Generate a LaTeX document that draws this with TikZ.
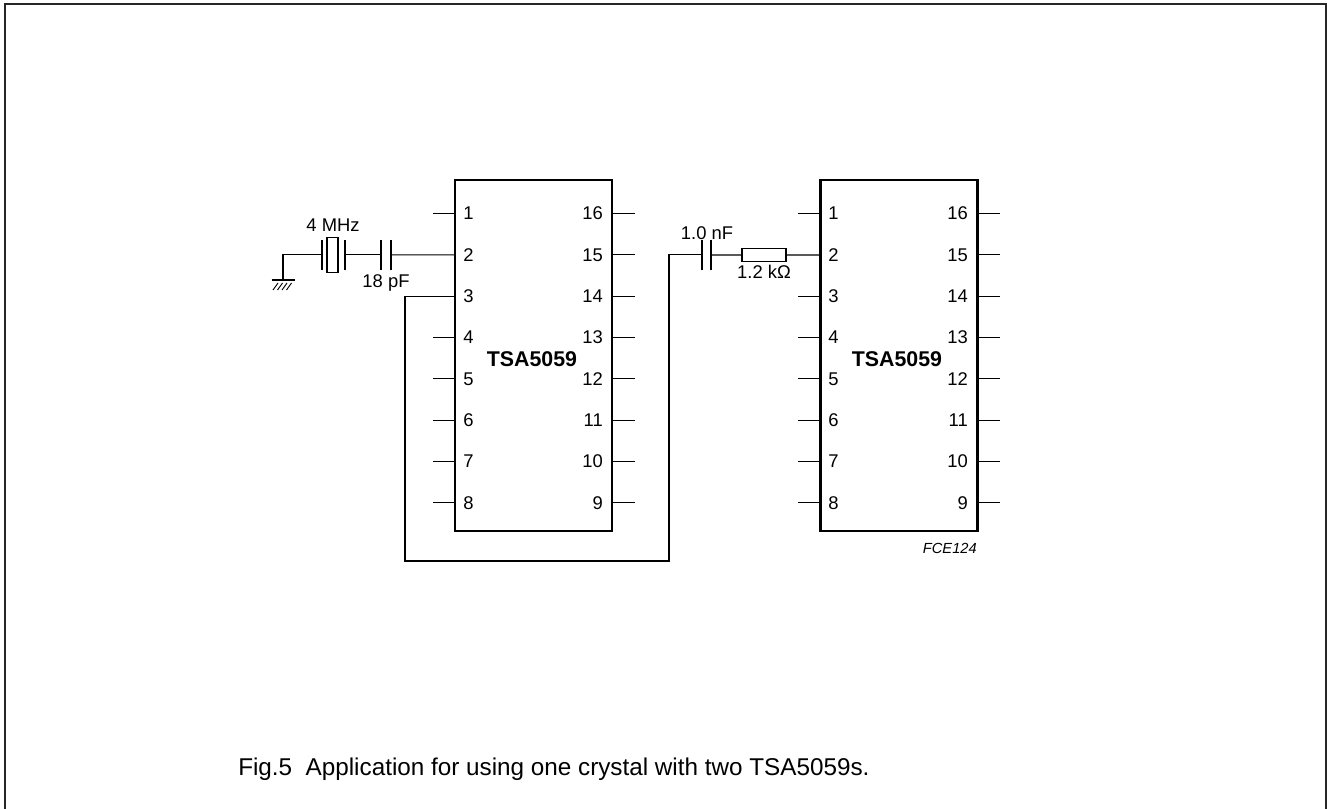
\documentclass[tikz,border=0pt]{standalone}
\usepackage{fontspec}
\setmainfont{Liberation Sans}
\begin{document}
\begin{tikzpicture}[x=0.75pt,y=-0.75pt,
  wire/.style={line width=0.9pt},
  plate/.style={line width=2.2pt},
  chipbox/.style={draw,line width=2.2pt,minimum width=117.75pt,minimum height=263.25pt,inner sep=0pt},
  lbl/.style={font=\fontsize{13.8}{15}\selectfont,inner sep=0pt},
  chipname/.style={font=\fontsize{16}{18}\selectfont\bfseries,inner sep=0pt},
  xtalbox/.style={draw,line width=0.9pt,minimum width=8.25pt,minimum height=26.25pt,inner sep=0pt},
  resbox/.style={draw,line width=0.9pt,minimum width=33pt,minimum height=9.75pt,inner sep=0pt},
  frame/.style={draw=black!85,line width=1.5pt}]
\useasboundingbox (0,0) rectangle (1327,809);
\draw[frame] (5,809) -- (5,4) -- (1325.5,4) -- (1325.5,809);

% chips
\node[chipbox] (c1) at (533.5,355.5) {};
\node[chipbox] (c2) at (899,355.5) {};
\node[chipname] (n1) at (532,359) {TSA5059};
\node[chipname] (n2) at (897,359) {TSA5059};

\foreach \c/\xl/\xr in {c1/455/612, c2/820/977}{
  \foreach \i in {1,...,8}{
    \pgfmathsetmacro{\yy}{213.6+41.3*(\i-1)}
    \pgfmathtruncatemacro{\j}{17-\i}
    \coordinate (\c l\i) at (\xl,\yy);
    \coordinate (\c le\i) at (\xl-22,\yy);
    \coordinate (\c r\i) at (\xr,\yy);
    \coordinate (\c re\i) at (\xr+23,\yy);
    \node[lbl,anchor=west] (\c ln\i) at (\xl+8,\yy) {\i};
    \node[lbl,anchor=east] (\c rn\i) at (\xr-9,\yy) {\j};
  }
}
\foreach \c in {c1,c2}{
  \foreach \i in {1,3,4,5,6,7,8}{
    \draw[wire] (\c le\i) -- (\c l\i);
  }
  \foreach \i in {1,...,8}{
    \draw[wire] (\c r\i) -- (\c re\i);
  }
}

% left circuit: ground, crystal, 18 pF
\coordinate (gnd) at (283,280);
\coordinate (xl) at (322,254.9);
\coordinate (xr) at (345,254.9);
\coordinate (ca) at (381,254.9);
\coordinate (cb) at (391,254.9);
\node[xtalbox] (xtal) at (332.5,255) {};
\draw[plate] ([yshift=11.25pt]xl) -- ([yshift=-11.25pt]xl);
\draw[plate] ([yshift=11.25pt]xr) -- ([yshift=-11.25pt]xr);
\draw[plate] ([yshift=11.25pt]ca) -- ([yshift=-11.25pt]ca);
\draw[plate] ([yshift=11.25pt]cb) -- ([yshift=-11.25pt]cb);
\draw[wire] (gnd) |- (xl);
\draw[wire] (xr) -- (ca);
\draw[wire] (cb) -- (c1l2);
\draw[plate] (271.5,280) -- (294.5,280);
\foreach \h in {273,277.5,282,286.5}{
  \draw[line width=0.7pt] (\h,290) -- (\h+5,283);
}
\node[lbl] (f4) at (333,225) {4 MHz};
\node[lbl,anchor=north] (c18) at (386,274) {18 pF};

% link from pin 3 of first chip
\coordinate (k1) at (405,561);
\coordinate (k2) at (669,561);
\coordinate (da) at (702,254.9);
\coordinate (db) at (711,254.9);
\draw[wire] (c1l3) -| (k1) -- (k2) |- (da);
\draw[plate] ([yshift=11.25pt]da) -- ([yshift=-11.25pt]da);
\draw[plate] ([yshift=11.25pt]db) -- ([yshift=-11.25pt]db);
\node[resbox] (res) at (764,255) {};
\draw[wire] (db) -- (res.west);
\draw[wire] (res.east) -- (c2l2);
\node[lbl] (c10) at (707,233) {1.0 nF};
\node[lbl,anchor=north] (r12) at (764,265) {1.2 kΩ};

\node[font=\fontsize{11}{12}\selectfont\itshape,inner sep=0pt,anchor=east] (code) at (977,548) {FCE124};

\node[font=\fontsize{18.2}{20}\selectfont,inner sep=0pt,anchor=base west] (cap) at (238,775) {Fig.5\ \ Application for using one crystal with two TSA5059s.};
\end{tikzpicture}
\end{document}
